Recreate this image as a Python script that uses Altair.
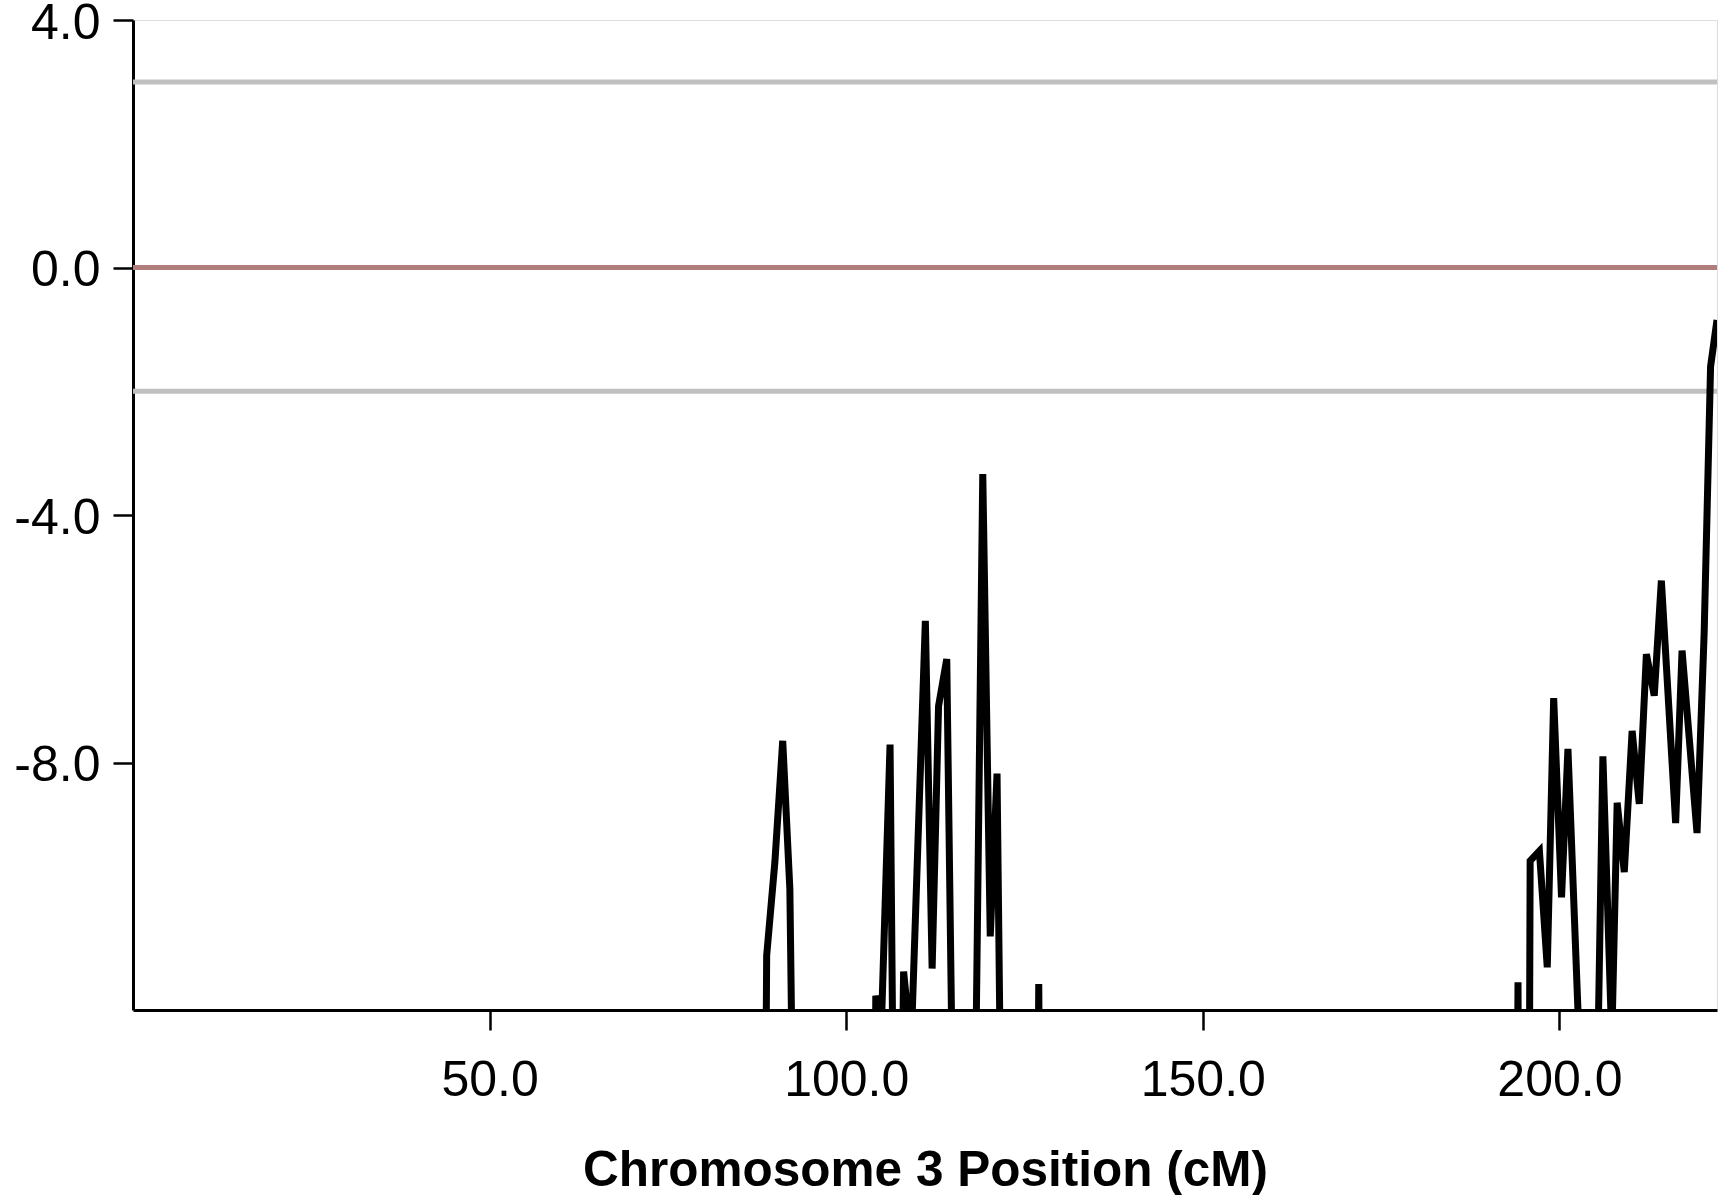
import altair as alt
import pandas as pd

# Chromosome 3 position (cM) and score; values far below the axis are hidden (clipped)
pos = [0.0, 87.8, 88.85, 90.0, 91.1, 92.1, 93.1, 103.2, 104.15, 104.95, 106.15, 107.1,
       108.05, 109.1, 111.1, 112.05, 112.95, 114.1, 115.1, 118.0, 119.15, 120.2, 121.15,
       122.1, 126.0, 127.0, 128.0, 193.2, 194.2, 195.0, 195.9, 197.2, 198.3, 199.2, 200.3,
       201.2, 203.3, 204.2, 205.1, 206.1, 207.35, 208.1, 209.1, 210.2, 211.2, 212.2, 213.3,
       214.3, 216.3, 217.2, 219.3, 220.3, 221.2, 222.1]
score = [-30, -30, -11.12, -9.61, -7.65, -10.04, -19, -30, -11.77, -12.2, -7.71, -20,
         -11.38, -12.6, -5.71, -11.33, -7.09, -6.33, -15, -14.5, -3.34, -10.81, -8.18,
         -18, -30, -11.58, -30, -30, -11.55, -40, -9.59, -9.43, -11.31, -6.96, -10.18,
         -7.78, -14.1, -20, -14.7, -7.90, -12.5, -8.65, -9.77, -7.49, -8.67, -6.25, -6.92,
         -5.06, -8.98, -6.19, -9.14, -5.9, -1.6, -0.85]

ref_values = [3.0, 0.0, -2.0]
ref_colors = ["#c0c0c0", "#b07c7c", "#c0c0c0"]

x_ticks = [50, 100, 150, 200]
y_ticks = [4, 0, -4, -8]

df = pd.DataFrame({"pos": pos, "score": score})
refs = pd.DataFrame({"v": ref_values, "c": ref_colors})

FONT = "Liberation Sans"

xscale = alt.Scale(domain=[0, 222.1], nice=False, zero=False)
yscale = alt.Scale(domain=[-12, 4], nice=False, zero=False)

rules = alt.Chart(refs).mark_rule(strokeWidth=5).encode(
    y=alt.Y("v:Q", scale=yscale),
    color=alt.Color("c:N", scale=None),
)

line = alt.Chart(df).mark_line(color="black", strokeWidth=7, clip=True).encode(
    x=alt.X(
        "pos:Q",
        scale=xscale,
        axis=alt.Axis(
            values=x_ticks,
            format=".1f",
            title="Chromosome 3 Position (cM)",
            titleFontSize=49.5,
            titleFontWeight="bold",
            titleFont=FONT,
            titleColor="black",
            titleBaseline="alphabetic",
            titleY=175,
            labelFontSize=50,
            labelFont=FONT,
            labelColor="black",
            labelBaseline="alphabetic",
            labelPadding=65,
            tickSize=20,
            tickWidth=2.5,
            tickColor="black",
            domainWidth=3,
            domainColor="black",
            grid=False,
        ),
    ),
    y=alt.Y(
        "score:Q",
        scale=yscale,
        axis=alt.Axis(
            values=y_ticks,
            format=".1f",
            labelExpr="replace(datum.label, '−', '-')",
            title=None,
            labelFontSize=50,
            labelFont=FONT,
            labelColor="black",
            labelBaseline="alphabetic",
            labelPadding=13,
            labelOffset=18,
            tickSize=20,
            tickWidth=2.5,
            tickColor="black",
            domainWidth=3,
            domainColor="black",
            grid=False,
        ),
    ),
)

chart = (
    alt.layer(rules, line)
    .properties(
        width=1584,
        height=990,
        autosize=alt.AutoSizeParams(type="none"),
        padding={"left": 133, "top": 20, "right": 1, "bottom": 185},
    )
    .configure_view(stroke="black", strokeWidth=2.5)
    .configure(background="white")
)

chart.save("out.html", embed_options={"renderer": "svg", "actions": False})
